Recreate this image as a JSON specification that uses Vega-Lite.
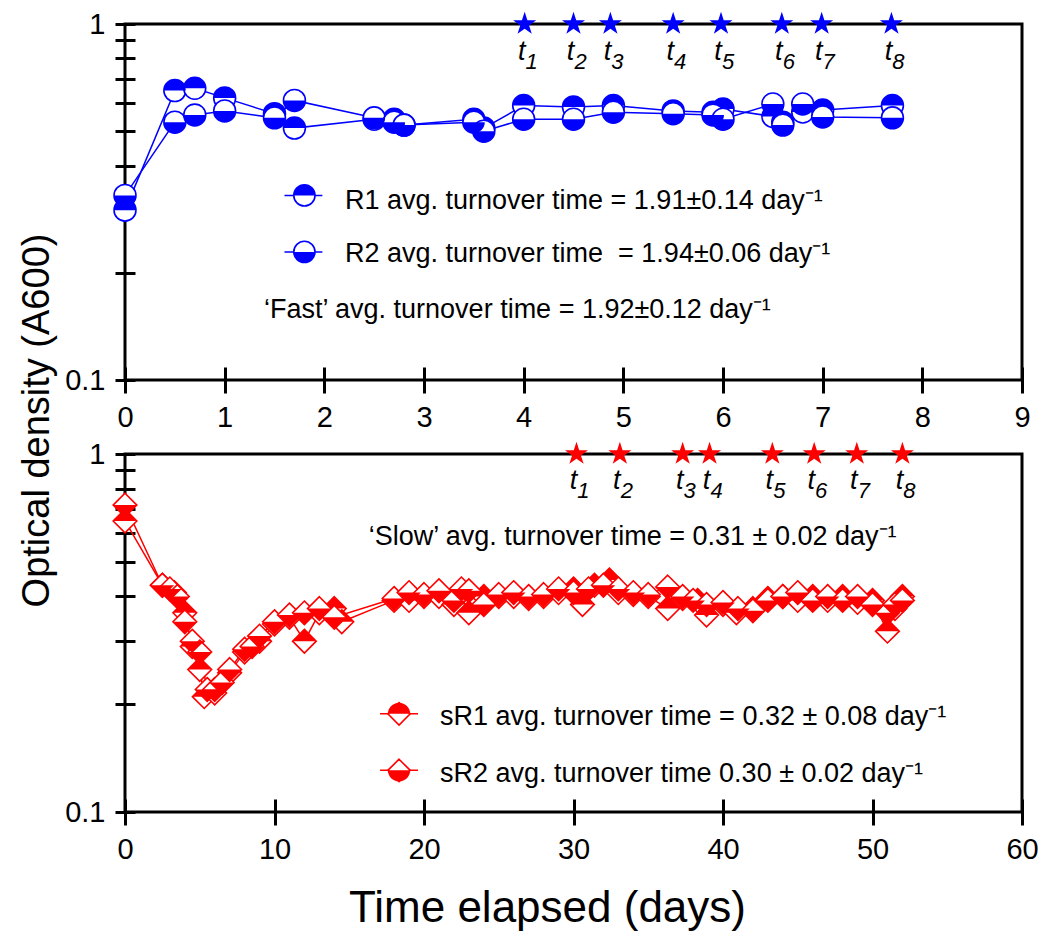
{
  "$schema": "https://vega.github.io/schema/vega-lite/v6.json",
  "background": "white",
  "padding": {"left": 16, "top": 8, "right": 10, "bottom": 10},
  "bounds": "flush",
  "spacing": 74,
  "config": {
    "view": {"stroke": "black", "strokeWidth": 3},
    "axis": {"domain": false, "grid": false, "tickColor": "black", "tickWidth": 3, "labelFont": "Liberation Sans", "labelFontSize": 29, "labelColor": "black", "titleFont": "Liberation Sans", "titleFontSize": 38, "titleFontWeight": "normal", "titleColor": "black", "labelFlush": false, "labelOverlap": false},
    "text": {"font": "Liberation Sans", "color": "black"}
  },
  "datasets": {
    "fast": [
      {"series": "R1", "day": 0, "od": 0.30}, {"series": "R1", "day": 0.5, "od": 0.65}, {"series": "R1", "day": 0.7, "od": 0.66}, {"series": "R1", "day": 1.0, "od": 0.62}, {"series": "R1", "day": 1.5, "od": 0.56}, {"series": "R1", "day": 1.7, "od": 0.51}, {"series": "R1", "day": 2.5, "od": 0.54}, {"series": "R1", "day": 2.7, "od": 0.54}, {"series": "R1", "day": 2.8, "od": 0.52}, {"series": "R1", "day": 3.5, "od": 0.54}, {"series": "R1", "day": 3.6, "od": 0.51}, {"series": "R1", "day": 4.0, "od": 0.59}, {"series": "R1", "day": 4.5, "od": 0.585}, {"series": "R1", "day": 4.9, "od": 0.59}, {"series": "R1", "day": 5.5, "od": 0.57}, {"series": "R1", "day": 5.9, "od": 0.565}, {"series": "R1", "day": 6.0, "od": 0.577}, {"series": "R1", "day": 6.5, "od": 0.55}, {"series": "R1", "day": 6.6, "od": 0.53}, {"series": "R1", "day": 6.8, "od": 0.566}, {"series": "R1", "day": 7.0, "od": 0.573}, {"series": "R1", "day": 7.7, "od": 0.59},
      {"series": "R2", "day": 0, "od": 0.33}, {"series": "R2", "day": 0.5, "od": 0.53}, {"series": "R2", "day": 0.7, "od": 0.555}, {"series": "R2", "day": 1.0, "od": 0.57}, {"series": "R2", "day": 1.5, "od": 0.545}, {"series": "R2", "day": 1.7, "od": 0.61}, {"series": "R2", "day": 2.5, "od": 0.545}, {"series": "R2", "day": 2.7, "od": 0.53}, {"series": "R2", "day": 2.8, "od": 0.52}, {"series": "R2", "day": 3.5, "od": 0.53}, {"series": "R2", "day": 3.6, "od": 0.50}, {"series": "R2", "day": 4.0, "od": 0.54}, {"series": "R2", "day": 4.5, "od": 0.54}, {"series": "R2", "day": 4.9, "od": 0.565}, {"series": "R2", "day": 5.5, "od": 0.56}, {"series": "R2", "day": 5.9, "od": 0.555}, {"series": "R2", "day": 6.0, "od": 0.54}, {"series": "R2", "day": 6.5, "od": 0.596}, {"series": "R2", "day": 6.6, "od": 0.52}, {"series": "R2", "day": 6.8, "od": 0.596}, {"series": "R2", "day": 7.0, "od": 0.548}, {"series": "R2", "day": 7.7, "od": 0.545}
    ],
    "fastLegend": [
      {"series": "R1", "day": 1.6, "day2": 1.98, "mid": 1.8, "od": 0.330},
      {"series": "R2", "day": 1.6, "day2": 1.98, "mid": 1.8, "od": 0.229}
    ],
    "fastNotes": [
      {"day": 2.207, "od": 0.302, "label": "R1 avg. turnover time = 1.91±0.14 day⁻¹"},
      {"day": 2.207, "od": 0.2145, "label": "R2 avg. turnover time\u00a0 = 1.94±0.06 day⁻¹"},
      {"day": 1.395, "od": 0.149, "label": "‘Fast’ avg. turnover time = 1.92±0.12 day⁻¹"}
    ],
    "fastStars": [
      {"day": 4.01, "od": 1, "t": "1"}, {"day": 4.50, "od": 1, "t": "2"}, {"day": 4.87, "od": 1, "t": "3"}, {"day": 5.50, "od": 1, "t": "4"}, {"day": 5.98, "od": 1, "t": "5"}, {"day": 6.59, "od": 1, "t": "6"}, {"day": 6.99, "od": 1, "t": "7"}, {"day": 7.69, "od": 1, "t": "8"}
    ],
    "slow": [
      {"series": "sR1", "day": 0, "od": 0.65}, {"series": "sR1", "day": 2.5, "od": 0.43}, {"series": "sR1", "day": 3.3, "od": 0.41}, {"series": "sR1", "day": 4.0, "od": 0.36}, {"series": "sR1", "day": 4.5, "od": 0.29}, {"series": "sR1", "day": 5.0, "od": 0.25}, {"series": "sR1", "day": 5.3, "od": 0.21}, {"series": "sR1", "day": 6.0, "od": 0.215}, {"series": "sR1", "day": 7.0, "od": 0.245}, {"series": "sR1", "day": 8.0, "od": 0.28}, {"series": "sR1", "day": 9.0, "od": 0.30}, {"series": "sR1", "day": 10.0, "od": 0.335}, {"series": "sR1", "day": 11.0, "od": 0.35}, {"series": "sR1", "day": 12.0, "od": 0.30}, {"series": "sR1", "day": 13.0, "od": 0.36}, {"series": "sR1", "day": 14.0, "od": 0.37}, {"series": "sR1", "day": 14.5, "od": 0.34}, {"series": "sR1", "day": 18.0, "od": 0.39}, {"series": "sR1", "day": 19.0, "od": 0.39}, {"series": "sR1", "day": 20.0, "od": 0.40}, {"series": "sR1", "day": 21.0, "od": 0.40}, {"series": "sR1", "day": 22.0, "od": 0.38}, {"series": "sR1", "day": 23.0, "od": 0.36}, {"series": "sR1", "day": 24.0, "od": 0.40}, {"series": "sR1", "day": 25.0, "od": 0.40}, {"series": "sR1", "day": 26.0, "od": 0.40}, {"series": "sR1", "day": 27.0, "od": 0.395}, {"series": "sR1", "day": 28.0, "od": 0.40}, {"series": "sR1", "day": 29.0, "od": 0.41}, {"series": "sR1", "day": 30.0, "od": 0.42}, {"series": "sR1", "day": 30.6, "od": 0.38}, {"series": "sR1", "day": 31.4, "od": 0.43}, {"series": "sR1", "day": 32.4, "od": 0.445}, {"series": "sR1", "day": 33.0, "od": 0.41}, {"series": "sR1", "day": 34.0, "od": 0.405}, {"series": "sR1", "day": 35.0, "od": 0.40}, {"series": "sR1", "day": 36.3, "od": 0.37}, {"series": "sR1", "day": 37.3, "od": 0.395}, {"series": "sR1", "day": 38.3, "od": 0.39}, {"series": "sR1", "day": 38.9, "od": 0.355}, {"series": "sR1", "day": 40.0, "od": 0.38}, {"series": "sR1", "day": 40.9, "od": 0.36}, {"series": "sR1", "day": 42.0, "od": 0.37}, {"series": "sR1", "day": 43.0, "od": 0.395}, {"series": "sR1", "day": 44.0, "od": 0.40}, {"series": "sR1", "day": 45.0, "od": 0.39}, {"series": "sR1", "day": 46.0, "od": 0.40}, {"series": "sR1", "day": 47.0, "od": 0.39}, {"series": "sR1", "day": 48.0, "od": 0.40}, {"series": "sR1", "day": 49.0, "od": 0.385}, {"series": "sR1", "day": 50.0, "od": 0.39}, {"series": "sR1", "day": 51.0, "od": 0.32}, {"series": "sR1", "day": 51.5, "od": 0.37}, {"series": "sR1", "day": 52.0, "od": 0.40},
      {"series": "sR2", "day": 0, "od": 0.72}, {"series": "sR2", "day": 2.5, "od": 0.43}, {"series": "sR2", "day": 3.0, "od": 0.42}, {"series": "sR2", "day": 3.5, "od": 0.40}, {"series": "sR2", "day": 4.0, "od": 0.34}, {"series": "sR2", "day": 4.5, "od": 0.30}, {"series": "sR2", "day": 5.0, "od": 0.28}, {"series": "sR2", "day": 5.5, "od": 0.22}, {"series": "sR2", "day": 6.0, "od": 0.22}, {"series": "sR2", "day": 6.5, "od": 0.23}, {"series": "sR2", "day": 7.0, "od": 0.25}, {"series": "sR2", "day": 8.0, "od": 0.285}, {"series": "sR2", "day": 8.5, "od": 0.29}, {"series": "sR2", "day": 9.0, "od": 0.31}, {"series": "sR2", "day": 10.0, "od": 0.34}, {"series": "sR2", "day": 11.0, "od": 0.355}, {"series": "sR2", "day": 12.0, "od": 0.36}, {"series": "sR2", "day": 13.0, "od": 0.37}, {"series": "sR2", "day": 14.0, "od": 0.35}, {"series": "sR2", "day": 18.0, "od": 0.395}, {"series": "sR2", "day": 19.0, "od": 0.41}, {"series": "sR2", "day": 20.0, "od": 0.405}, {"series": "sR2", "day": 21.0, "od": 0.415}, {"series": "sR2", "day": 22.0, "od": 0.39}, {"series": "sR2", "day": 22.5, "od": 0.42}, {"series": "sR2", "day": 23.0, "od": 0.415}, {"series": "sR2", "day": 24.0, "od": 0.38}, {"series": "sR2", "day": 25.0, "od": 0.405}, {"series": "sR2", "day": 26.0, "od": 0.41}, {"series": "sR2", "day": 27.0, "od": 0.40}, {"series": "sR2", "day": 28.0, "od": 0.405}, {"series": "sR2", "day": 29.0, "od": 0.42}, {"series": "sR2", "day": 30.0, "od": 0.41}, {"series": "sR2", "day": 31.0, "od": 0.42}, {"series": "sR2", "day": 32.0, "od": 0.43}, {"series": "sR2", "day": 33.0, "od": 0.42}, {"series": "sR2", "day": 34.0, "od": 0.41}, {"series": "sR2", "day": 35.0, "od": 0.405}, {"series": "sR2", "day": 36.3, "od": 0.425}, {"series": "sR2", "day": 37.3, "od": 0.40}, {"series": "sR2", "day": 38.0, "od": 0.39}, {"series": "sR2", "day": 38.9, "od": 0.38}, {"series": "sR2", "day": 40.0, "od": 0.385}, {"series": "sR2", "day": 41.0, "od": 0.37}, {"series": "sR2", "day": 42.0, "od": 0.365}, {"series": "sR2", "day": 43.0, "od": 0.39}, {"series": "sR2", "day": 44.0, "od": 0.40}, {"series": "sR2", "day": 45.0, "od": 0.41}, {"series": "sR2", "day": 46.0, "od": 0.39}, {"series": "sR2", "day": 47.0, "od": 0.40}, {"series": "sR2", "day": 48.0, "od": 0.39}, {"series": "sR2", "day": 49.0, "od": 0.40}, {"series": "sR2", "day": 50.0, "od": 0.38}, {"series": "sR2", "day": 51.0, "od": 0.36}, {"series": "sR2", "day": 51.5, "od": 0.38}, {"series": "sR2", "day": 52.0, "od": 0.39}
    ],
    "slowLegend": [
      {"series": "sR1", "day": 17.06, "day2": 19.6, "mid": 18.33, "od": 0.188},
      {"series": "sR2", "day": 17.06, "day2": 19.6, "mid": 18.33, "od": 0.1307}
    ],
    "slowNotes": [
      {"day": 16.3, "od": 0.557, "label": "‘Slow’ avg. turnover time = 0.31 ± 0.02 day⁻¹"},
      {"day": 21.07, "od": 0.175, "label": "sR1 avg. turnover time = 0.32 ± 0.08 day⁻¹"},
      {"day": 21.07, "od": 0.121, "label": "sR2 avg. turnover time 0.30 ± 0.02 day⁻¹"}
    ],
    "slowStars": [
      {"day": 30.2, "od": 1, "t": "1"}, {"day": 33.1, "od": 1, "t": "2"}, {"day": 37.3, "od": 1, "t": "3"}, {"day": 39.1, "od": 1, "t": "4"}, {"day": 43.3, "od": 1, "t": "5"}, {"day": 46.1, "od": 1, "t": "6"}, {"day": 48.95, "od": 1, "t": "7"}, {"day": 52.0, "od": 1, "t": "8"}
    ]
  },
  "vconcat": [
    {
      "width": 897,
      "height": 356,
      "layer": [
        {
          "data": {"name": "fast"},
          "mark": {"type": "line", "color": "#0000ff", "strokeWidth": 1.5},
          "encoding": {
            "x": {"field": "day", "type": "quantitative", "scale": {"domain": [0, 9], "nice": false, "zero": false},
              "axis": {"title": null, "values": [0, 1, 2, 3, 4, 5, 6, 7, 8, 9], "format": "d", "offset": -13, "tickSize": 26, "labelPadding": 10}},
            "y": {"field": "od", "type": "quantitative", "scale": {"type": "log", "domain": [0.1, 1], "nice": false},
              "axis": {"title": "Optical density (A600)", "titleX": -98, "titleY": 396, "titleAlign": "center", "titleBaseline": "middle", "titleAngle": -90,
                "values": [0.1, 0.2, 0.3, 0.4, 0.5, 0.6, 0.7, 0.8, 0.9, 1], "labelExpr": "abs(datum.value - 1) < 1e-9 ? '1' : (abs(datum.value - 0.1) < 1e-9 ? '0.1' : '')",
                "offset": -10, "tickSize": 20, "labelPadding": 10}},
            "detail": {"field": "series"}
          }
        },
        {
          "data": {"name": "fast"},
          "transform": [{"filter": "datum.series === 'R1'"}],
          "mark": {"type": "point", "shape": "M-1,0C-1,-0.5523,-0.5523,-1,0,-1C0.5523,-1,1,-0.5523,1,0C1,0.5523,0.5523,1,0,1C-0.5523,1,-1,0.5523,-1,0Z", "filled": true, "fill": "white", "stroke": "#0000ff", "strokeWidth": 1.6, "size": 480, "opacity": 1},
          "encoding": {"x": {"field": "day", "type": "quantitative"}, "y": {"field": "od", "type": "quantitative"}}
        },
        {
          "data": {"name": "fast"},
          "transform": [{"filter": "datum.series === 'R1'"}],
          "mark": {"type": "point", "shape": "M-1,0C-1,-0.5523,-0.5523,-1,0,-1C0.5523,-1,1,-0.5523,1,0Z", "filled": true, "fill": "#0000ff", "strokeWidth": 0, "size": 480, "opacity": 1},
          "encoding": {"x": {"field": "day", "type": "quantitative"}, "y": {"field": "od", "type": "quantitative"}}
        },
        {
          "data": {"name": "fast"},
          "transform": [{"filter": "datum.series === 'R2'"}],
          "mark": {"type": "point", "shape": "M-1,0C-1,-0.5523,-0.5523,-1,0,-1C0.5523,-1,1,-0.5523,1,0C1,0.5523,0.5523,1,0,1C-0.5523,1,-1,0.5523,-1,0Z", "filled": true, "fill": "white", "stroke": "#0000ff", "strokeWidth": 1.6, "size": 480, "opacity": 1},
          "encoding": {"x": {"field": "day", "type": "quantitative"}, "y": {"field": "od", "type": "quantitative"}}
        },
        {
          "data": {"name": "fast"},
          "transform": [{"filter": "datum.series === 'R2'"}],
          "mark": {"type": "point", "shape": "M-1,0C-1,0.5523,-0.5523,1,0,1C0.5523,1,1,0.5523,1,0Z", "filled": true, "fill": "#0000ff", "strokeWidth": 0, "size": 480, "opacity": 1},
          "encoding": {"x": {"field": "day", "type": "quantitative"}, "y": {"field": "od", "type": "quantitative"}}
        },
        {
          "data": {"name": "fastLegend"},
          "mark": {"type": "rule", "color": "#0000ff", "strokeWidth": 1.5},
          "encoding": {"x": {"field": "day", "type": "quantitative"}, "x2": {"field": "day2"}, "y": {"field": "od", "type": "quantitative"}}
        },
        {
          "data": {"name": "fastLegend"},
          "mark": {"type": "point", "shape": "M-1,0C-1,-0.5523,-0.5523,-1,0,-1C0.5523,-1,1,-0.5523,1,0C1,0.5523,0.5523,1,0,1C-0.5523,1,-1,0.5523,-1,0Z", "filled": true, "fill": "white", "stroke": "#0000ff", "strokeWidth": 1.6, "size": 450, "opacity": 1},
          "encoding": {"x": {"field": "mid", "type": "quantitative"}, "y": {"field": "od", "type": "quantitative"}}
        },
        {
          "data": {"name": "fastLegend"},
          "mark": {"type": "point", "filled": true, "fill": "#0000ff", "strokeWidth": 0, "size": 450, "opacity": 1},
          "encoding": {"x": {"field": "mid", "type": "quantitative"}, "y": {"field": "od", "type": "quantitative"},
            "shape": {"field": "series", "type": "nominal", "legend": null, "scale": {"domain": ["R1", "R2"], "range": ["M-1,0C-1,-0.5523,-0.5523,-1,0,-1C0.5523,-1,1,-0.5523,1,0Z", "M-1,0C-1,0.5523,-0.5523,1,0,1C0.5523,1,1,0.5523,1,0Z"]}}}
        },
        {
          "data": {"name": "fastNotes"},
          "mark": {"type": "text", "align": "left", "baseline": "alphabetic", "fontSize": 27, "font": "Liberation Sans", "color": "black"},
          "encoding": {"x": {"field": "day", "type": "quantitative"}, "y": {"field": "od", "type": "quantitative"}, "text": {"field": "label"}}
        },
        {
          "data": {"name": "fastStars"},
          "mark": {"type": "point", "shape": "M0,-1L0.2245,-0.309L0.951,-0.309L0.363,0.118L0.588,0.809L0,0.382L-0.588,0.809L-0.363,0.118L-0.951,-0.309L-0.2245,-0.309Z", "filled": true, "fill": "#0000ff", "strokeWidth": 0, "size": 590, "opacity": 1},
          "encoding": {"x": {"field": "day", "type": "quantitative"}, "y": {"field": "od", "type": "quantitative"}}
        },
        {
          "data": {"name": "fastStars"},
          "mark": {"type": "text", "align": "center", "baseline": "alphabetic", "fontSize": 27, "fontStyle": "italic", "font": "Liberation Sans", "dx": -3, "dy": 36, "color": "black"},
          "encoding": {"x": {"field": "day", "type": "quantitative"}, "y": {"field": "od", "type": "quantitative"}, "text": {"value": "t"}}
        },
        {
          "data": {"name": "fastStars"},
          "mark": {"type": "text", "align": "center", "baseline": "alphabetic", "fontSize": 22, "fontStyle": "italic", "font": "Liberation Sans", "dx": 7, "dy": 45, "color": "black"},
          "encoding": {"x": {"field": "day", "type": "quantitative"}, "y": {"field": "od", "type": "quantitative"}, "text": {"field": "t"}}
        }
      ]
    },
    {
      "width": 897,
      "height": 358,
      "layer": [
        {
          "data": {"name": "slow"},
          "mark": {"type": "line", "color": "#ff0000", "strokeWidth": 1.5},
          "encoding": {
            "x": {"field": "day", "type": "quantitative", "scale": {"domain": [0, 60], "nice": false, "zero": false},
              "axis": {"title": "Time elapsed (days)", "titleX": 422, "titleY": 122, "titleAlign": "center", "titleBaseline": "alphabetic", "titleFontSize": 44,
                "values": [0, 10, 20, 30, 40, 50, 60], "format": "d", "offset": -13, "tickSize": 26, "labelPadding": 10}},
            "y": {"field": "od", "type": "quantitative", "scale": {"type": "log", "domain": [0.1, 1], "nice": false},
              "axis": {"title": null,
                "values": [0.1, 0.2, 0.3, 0.4, 0.5, 0.6, 0.7, 0.8, 0.9, 1], "labelExpr": "abs(datum.value - 1) < 1e-9 ? '1' : (abs(datum.value - 0.1) < 1e-9 ? '0.1' : '')",
                "offset": -10, "tickSize": 20, "labelPadding": 10}},
            "detail": {"field": "series"}
          }
        },
        {
          "data": {"name": "slow"},
          "transform": [{"filter": "datum.series === 'sR1'"}],
          "mark": {"type": "point", "shape": "M0,-1L1,0L0,1L-1,0Z", "filled": true, "fill": "white", "stroke": "#ff0000", "strokeWidth": 1.6, "size": 560, "opacity": 1},
          "encoding": {"x": {"field": "day", "type": "quantitative"}, "y": {"field": "od", "type": "quantitative"}}
        },
        {
          "data": {"name": "slow"},
          "transform": [{"filter": "datum.series === 'sR1'"}],
          "mark": {"type": "point", "shape": "M-1,0L0,-1L1,0Z", "filled": true, "fill": "#ff0000", "strokeWidth": 0, "size": 560, "opacity": 1},
          "encoding": {"x": {"field": "day", "type": "quantitative"}, "y": {"field": "od", "type": "quantitative"}}
        },
        {
          "data": {"name": "slow"},
          "transform": [{"filter": "datum.series === 'sR2'"}],
          "mark": {"type": "point", "shape": "M0,-1L1,0L0,1L-1,0Z", "filled": true, "fill": "white", "stroke": "#ff0000", "strokeWidth": 1.6, "size": 560, "opacity": 1},
          "encoding": {"x": {"field": "day", "type": "quantitative"}, "y": {"field": "od", "type": "quantitative"}}
        },
        {
          "data": {"name": "slow"},
          "transform": [{"filter": "datum.series === 'sR2'"}],
          "mark": {"type": "point", "shape": "M-1,0L0,1L1,0Z", "filled": true, "fill": "#ff0000", "strokeWidth": 0, "size": 560, "opacity": 1},
          "encoding": {"x": {"field": "day", "type": "quantitative"}, "y": {"field": "od", "type": "quantitative"}}
        },
        {
          "data": {"name": "slowLegend"},
          "mark": {"type": "rule", "color": "#ff0000", "strokeWidth": 1.5},
          "encoding": {"x": {"field": "day", "type": "quantitative"}, "x2": {"field": "day2"}, "y": {"field": "od", "type": "quantitative"}}
        },
        {
          "data": {"name": "slowLegend"},
          "mark": {"type": "point", "shape": "M0,-1L1,0L0,1L-1,0Z", "filled": true, "fill": "white", "stroke": "#ff0000", "strokeWidth": 1.6, "size": 500, "opacity": 1},
          "encoding": {"x": {"field": "mid", "type": "quantitative"}, "y": {"field": "od", "type": "quantitative"}}
        },
        {
          "data": {"name": "slowLegend"},
          "mark": {"type": "point", "filled": true, "fill": "#ff0000", "strokeWidth": 0, "size": 500, "opacity": 1},
          "encoding": {"x": {"field": "mid", "type": "quantitative"}, "y": {"field": "od", "type": "quantitative"},
            "shape": {"field": "series", "type": "nominal", "legend": null, "scale": {"domain": ["sR1", "sR2"], "range": ["M-1,0L0,-1L1,0Z", "M-1,0L0,1L1,0Z"]}}}
        },
        {
          "data": {"name": "slowNotes"},
          "mark": {"type": "text", "align": "left", "baseline": "alphabetic", "fontSize": 27, "font": "Liberation Sans", "color": "black"},
          "encoding": {"x": {"field": "day", "type": "quantitative"}, "y": {"field": "od", "type": "quantitative"}, "text": {"field": "label"}}
        },
        {
          "data": {"name": "slowStars"},
          "mark": {"type": "point", "shape": "M0,-1L0.2245,-0.309L0.951,-0.309L0.363,0.118L0.588,0.809L0,0.382L-0.588,0.809L-0.363,0.118L-0.951,-0.309L-0.2245,-0.309Z", "filled": true, "fill": "#ff0000", "strokeWidth": 0, "size": 590, "opacity": 1},
          "encoding": {"x": {"field": "day", "type": "quantitative"}, "y": {"field": "od", "type": "quantitative"}}
        },
        {
          "data": {"name": "slowStars"},
          "mark": {"type": "text", "align": "center", "baseline": "alphabetic", "fontSize": 27, "fontStyle": "italic", "font": "Liberation Sans", "dx": -3, "dy": 35, "color": "black"},
          "encoding": {"x": {"field": "day", "type": "quantitative"}, "y": {"field": "od", "type": "quantitative"}, "text": {"value": "t"}}
        },
        {
          "data": {"name": "slowStars"},
          "mark": {"type": "text", "align": "center", "baseline": "alphabetic", "fontSize": 22, "fontStyle": "italic", "font": "Liberation Sans", "dx": 7, "dy": 44, "color": "black"},
          "encoding": {"x": {"field": "day", "type": "quantitative"}, "y": {"field": "od", "type": "quantitative"}, "text": {"field": "t"}}
        }
      ]
    }
  ]
}
